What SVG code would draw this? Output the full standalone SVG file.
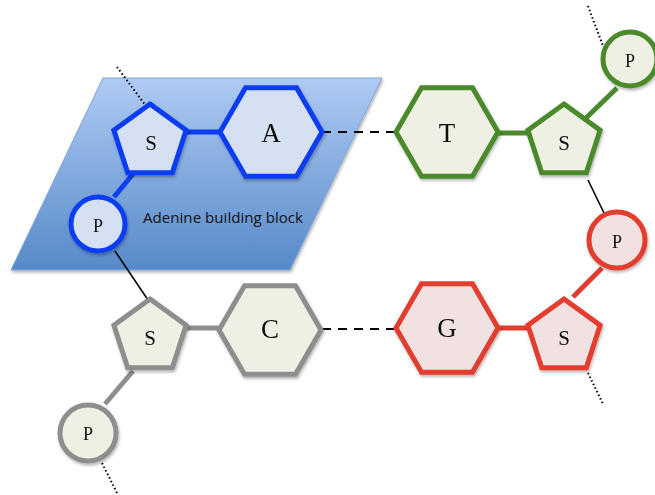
<svg xmlns="http://www.w3.org/2000/svg" xmlns:xlink="http://www.w3.org/1999/xlink" width="655" height="495" viewBox="0 0 655 495">
  <style>
    .lbl { font-family: "Liberation Serif", "DejaVu Serif", serif; text-anchor: middle; fill: #111; }
    .big { font-size: 27px; }
    .mid { font-size: 21px; }
    .sml { font-size: 18px; }
    .blue { stroke: #0d3ef2; fill: #d5e0f2; stroke-width: 5; stroke-linejoin: miter; }
    .green { stroke: #4b8a2c; fill: #eef0e4; stroke-width: 5; stroke-linejoin: miter; }
    .red { stroke: #e23c2e; fill: #f2e1e1; stroke-width: 5; stroke-linejoin: miter; }
    .gray { stroke: #8e8e8e; fill: #eef0e4; stroke-width: 5; stroke-linejoin: miter; }
    .bl { stroke: #0d3ef2; stroke-width: 5; fill: none; }
    .gl { stroke: #4b8a2c; stroke-width: 5; fill: none; }
    .rl { stroke: #e23c2e; stroke-width: 5; fill: none; }
    .yl { stroke: #8e8e8e; stroke-width: 5; fill: none; }
    .solid { stroke: #000; stroke-width: 1.6; fill: none; }
    .dot { stroke: #000; stroke-width: 2; stroke-dasharray: 1.5 2.5; fill: none; }
    .dash { stroke: #000; stroke-width: 2.2; stroke-dasharray: 9 7; fill: none; }
  </style>
  <defs>
    <linearGradient id="bg" x1="0" y1="0" x2="0" y2="1">
      <stop offset="0" stop-color="#aecbf3"/>
      <stop offset="1" stop-color="#5789c9"/>
    </linearGradient>
    <filter id="sh" x="-20%" y="-20%" width="140%" height="140%">
      <feDropShadow dx="1" dy="2" stdDeviation="1.5" flood-color="#000" flood-opacity="0.3"/>
    </filter>
    <polygon id="pent" points="0,-38 36.1,-11.7 22.3,30.7 -22.3,30.7 -36.1,-11.7"/>
    <polygon id="hex" points="-51,0 -25.5,-44.2 25.5,-44.2 51,0 25.5,44.2 -25.5,44.2"/>
  </defs>

  <g id="block">
    <polygon points="103,78 382,78 290,270 11,270" fill="url(#bg)" stroke="#7fa6d8" stroke-width="1" filter="url(#sh)"/>
    <text x="223" y="223" font-family="'Open Sans', 'DejaVu Sans', sans-serif" font-size="15" fill="#111" text-anchor="middle" textLength="160" lengthAdjust="spacingAndGlyphs">Adenine building block</text>
  </g>

  <g id="connectors">
    <line class="dot" x1="117" y1="67" x2="146" y2="106"/>
    <line class="bl" x1="186" y1="132" x2="221" y2="132"/>
    <line class="bl" x1="133" y1="174" x2="114" y2="197"/>
    <line class="solid" x1="115" y1="251" x2="148" y2="300"/>
    <line class="dash" x1="322" y1="132" x2="396" y2="132"/>
    <line class="gl" x1="497" y1="133" x2="529" y2="133"/>
    <line class="gl" x1="586" y1="118" x2="617" y2="88"/>
    <line class="dot" x1="588" y1="6" x2="603" y2="46"/>
    <line class="solid" x1="588" y1="180" x2="604" y2="213"/>
    <line class="rl" x1="602" y1="268" x2="573" y2="297"/>
    <line class="rl" x1="497" y1="328" x2="529" y2="328"/>
    <line class="dot" x1="588" y1="373" x2="603" y2="404"/>
    <line class="dash" x1="322" y1="329" x2="396" y2="329"/>
    <line class="yl" x1="186" y1="328" x2="219" y2="328"/>
    <line class="yl" x1="133" y1="371" x2="105" y2="404"/>
    <line class="dot" x1="102" y1="463" x2="117" y2="493"/>
  </g>

  <g id="blue-S" filter="url(#sh)">
    <use xlink:href="#pent" class="blue" transform="translate(150,142)"/>
    <text class="lbl mid" x="151" y="150">S</text>
  </g>
  <g id="blue-A" filter="url(#sh)">
    <use xlink:href="#hex" class="blue" transform="translate(271,132)"/>
    <text class="lbl big" x="271" y="142">A</text>
  </g>
  <g id="blue-P" filter="url(#sh)">
    <circle class="blue" cx="98" cy="224" r="27"/>
    <text class="lbl sml" x="98" y="232">P</text>
  </g>

  <g id="green-T" filter="url(#sh)">
    <use xlink:href="#hex" class="green" transform="translate(447,132)"/>
    <text class="lbl big" x="447" y="142">T</text>
  </g>
  <g id="green-S" filter="url(#sh)">
    <use xlink:href="#pent" class="green" transform="translate(564,142)"/>
    <text class="lbl mid" x="564" y="150">S</text>
  </g>
  <g id="green-P" filter="url(#sh)">
    <circle class="green" cx="630" cy="59" r="27"/>
    <text class="lbl sml" x="630" y="67">P</text>
  </g>

  <g id="red-P" filter="url(#sh)">
    <circle class="red" cx="617" cy="240" r="28"/>
    <text class="lbl sml" x="617" y="248">P</text>
  </g>
  <g id="red-S" filter="url(#sh)">
    <use xlink:href="#pent" class="red" transform="translate(564,337)"/>
    <text class="lbl mid" x="564" y="345">S</text>
  </g>
  <g id="red-G" filter="url(#sh)">
    <use xlink:href="#hex" class="red" transform="translate(447,328)"/>
    <text class="lbl big" x="447" y="337">G</text>
  </g>

  <g id="gray-C" filter="url(#sh)">
    <use xlink:href="#hex" class="gray" transform="translate(270,330)"/>
    <text class="lbl big" x="270" y="338">C</text>
  </g>
  <g id="gray-S" filter="url(#sh)">
    <use xlink:href="#pent" class="gray" transform="translate(150,337)"/>
    <text class="lbl mid" x="150" y="345">S</text>
  </g>
  <g id="gray-P" filter="url(#sh)">
    <circle class="gray" cx="88" cy="433" r="28"/>
    <text class="lbl sml" x="88" y="440">P</text>
  </g>
</svg>
